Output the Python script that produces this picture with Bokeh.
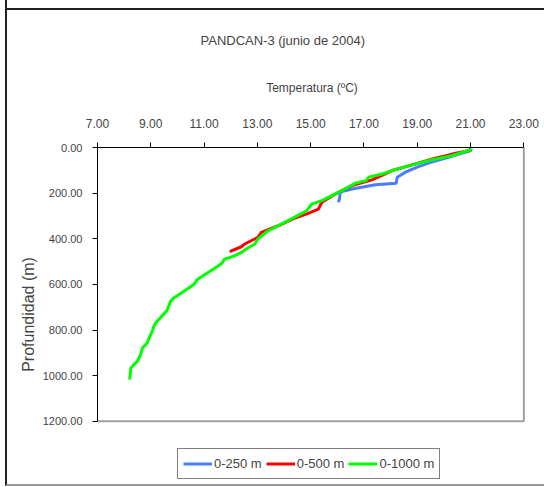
from bokeh.plotting import figure
from bokeh.models import Range1d, FixedTicker, NumeralTickFormatter, Legend, LegendItem
from bokeh.embed import file_html
from bokeh.resources import INLINE

# CTD profiles, PANDCAN-3 cruise, June 2004: depth (m) and temperature (ºC)
depth_250 = [5, 13, 42, 67, 86, 108, 130, 157, 163, 182, 193, 201, 226, 240]
temp_250 = [21.02, 21.01, 20.20, 19.44, 19.00, 18.56, 18.25, 18.21, 17.43, 16.55, 16.17, 16.10, 16.08, 16.04]

depth_500 = [5, 13, 25, 50, 72, 101, 142, 167, 196, 240, 270, 289, 309, 343, 372, 394, 401, 423, 435, 456]
temp_500 = [21.00, 20.95, 20.45, 19.57, 18.94, 18.06, 17.30, 16.55, 16.04, 15.42, 15.29, 14.91, 14.41,
            13.78, 13.15, 13.02, 12.90, 12.52, 12.40, 11.96]

depth_1000 = [5, 10, 35, 57, 76, 101, 116, 130, 145, 157, 189, 233, 248, 277, 313, 365, 401, 423, 445,
              460, 475, 489, 511, 577, 599, 658, 672, 716, 768, 782, 804, 834, 856, 878, 907, 936, 966, 1017]
temp_1000 = [21.02, 21.01, 20.32, 19.44, 18.81, 18.06, 17.68, 17.18, 17.08, 16.67, 16.17, 15.42, 15.04,
             14.85, 14.28, 13.40, 13.02, 12.90, 12.58, 12.40, 12.14, 11.77, 11.64, 10.76, 10.63, 9.88,
             9.75, 9.60, 9.19, 9.12, 9.06, 8.94, 8.87, 8.69, 8.62, 8.50, 8.25, 8.21]

series_names = ["0-250 m", "0-500 m", "0-1000 m"]
series_colors = ["#4a7cff", "#ff0000", "#00ff00"]

temp_ticks = [7, 9, 11, 13, 15, 17, 19, 21, 23]
depth_ticks = [0, 200, 400, 600, 800, 1000, 1200]

FONT = "Liberation Sans"

# The frame runs down past the depth axis so the legend can sit inside it;
# the visible plot area is bounded by the first/last ticks.
T_MIN, T_MAX = temp_ticks[0], temp_ticks[-1]
D_MAX = depth_ticks[-1]
PLOT_H = 273          # pixel height of the 0-1200 m plot area
FRAME_H = 333         # frame height including the legend strip
x_range = Range1d(T_MIN, T_MAX + 0.1)
y_range = Range1d(D_MAX * FRAME_H / PLOT_H, 0)

p = figure(width=539, height=486, output_backend="svg", toolbar_location=None,
           x_range=x_range, y_range=y_range, x_axis_location="above",
           min_border_left=90, min_border_right=20, min_border_top=147, min_border_bottom=5,
           margin=(0, 0, 0, 5))
# chart-area frame: dark line top and left, grey line at the bottom
p.styles = {"border-left": "2px solid #222222", "border-bottom": "2px solid #999999",
            "background": "linear-gradient(#222222, #222222) 0 8px / 100% 2px no-repeat, white"}

p.grid.visible = False
p.outline_line_color = None
p.background_fill_color = "white"
p.border_fill_alpha = 0

# title
p.title.text = "PANDCAN-3 (junio de 2004)"
p.title.align = "left"
p.title.offset = 103
p.title.text_font = FONT
p.title.text_font_size = "13px"
p.title.text_font_style = "normal"
p.title.standoff = 60

# temperature axis on top
xa = p.xaxis[0]
xa.bounds = (T_MIN, T_MAX)
xa.ticker = FixedTicker(ticks=temp_ticks)
xa.formatter = NumeralTickFormatter(format="0.00")
xa.axis_label = "Temperatura (ºC)"
xa.axis_label_text_font = FONT
xa.axis_label_text_font_size = "12px"
xa.axis_label_text_font_style = "normal"
xa.axis_label_standoff = 21
xa.major_label_text_font = FONT
xa.major_label_text_font_size = "12px"
xa.major_label_standoff = 15
xa.major_tick_out = 5
xa.major_tick_in = 0
xa.minor_tick_out = 0
xa.minor_tick_in = 0
xa.axis_line_color = "black"
xa.major_tick_line_color = "black"

# depth axis on the left
ya = p.yaxis[0]
ya.bounds = (0, D_MAX)
ya.ticker = FixedTicker(ticks=depth_ticks)
ya.formatter = NumeralTickFormatter(format="0.00")
ya.axis_label = "Profundidad (m)"
ya.axis_label_text_font = FONT
ya.axis_label_text_font_size = "16px"
ya.axis_label_text_font_style = "normal"
ya.axis_label_standoff = 3
ya.major_label_text_font = FONT
ya.major_label_text_font_size = "11px"
ya.major_label_standoff = 10
ya.major_tick_out = 5
ya.major_tick_in = 0
ya.minor_tick_out = 0
ya.minor_tick_in = 0
ya.axis_line_color = "black"
ya.major_tick_line_color = "black"

# grey border on the right and bottom of the plot area
p.line([T_MIN, T_MAX, T_MAX], [D_MAX, D_MAX, 0], line_color="#a0a0a0", line_width=2)

profiles = [(temp_250, depth_250), (temp_500, depth_500), (temp_1000, depth_1000)]
items = []
for (t, d), name, color in zip(profiles, series_names, series_colors):
    r = p.line(t, d, line_color=color, line_width=3)
    items.append(LegendItem(label=name, renderers=[r]))

legend = Legend(items=items, orientation="horizontal", location=(80, 2))
legend.border_line_color = "black"
legend.border_line_width = 1
legend.label_text_font = FONT
legend.label_text_font_size = "13px"
legend.glyph_width = 29
legend.glyph_height = 19
legend.label_standoff = 2
legend.spacing = 4
legend.padding = 5
legend.margin = 0
legend.background_fill_color = "white"
legend.background_fill_alpha = 1
p.add_layout(legend, "center")

open("out.html", "w").write(file_html(p, INLINE))
